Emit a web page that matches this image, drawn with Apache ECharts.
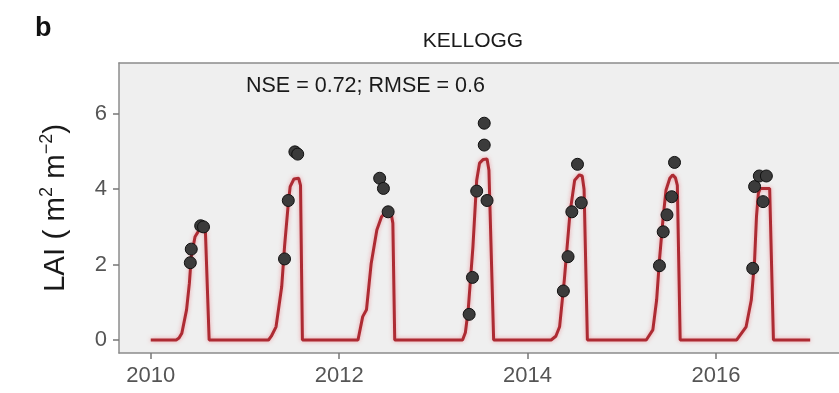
<!DOCTYPE html>
<html>
<head>
<meta charset="utf-8">
<script src="https://cdn.jsdelivr.net/npm/echarts@6/dist/echarts.min.js"></script>
<style>
html,body{margin:0;padding:0;background:#fff;}
#chart{width:839px;height:393px;}
</style>
</head>
<body>
<div id="chart"></div>
<script>
// Simulated LAI (decimal year, LAI)
const simYears = [
  2010.00, 2010.27, 2010.30, 2010.33, 2010.38, 2010.41, 2010.43, 2010.47, 2010.51, 2010.55, 2010.58, 2010.62,
  2011.25, 2011.28, 2011.33, 2011.39, 2011.42, 2011.46, 2011.48, 2011.52, 2011.57, 2011.59, 2011.61,
  2012.20, 2012.25, 2012.29, 2012.34, 2012.40, 2012.45, 2012.50, 2012.55, 2012.57, 2012.59,
  2013.31, 2013.34, 2013.37, 2013.42, 2013.46, 2013.49, 2013.53, 2013.57, 2013.59, 2013.64,
  2014.25, 2014.30, 2014.34, 2014.39, 2014.45, 2014.50, 2014.55, 2014.58, 2014.60, 2014.635,
  2015.26, 2015.33, 2015.37, 2015.40, 2015.44, 2015.47, 2015.51, 2015.54, 2015.57, 2015.59, 2015.62,
  2016.22, 2016.32, 2016.375, 2016.41, 2016.43, 2016.45, 2016.47, 2016.57, 2016.59, 2016.61, 2017.00
];
const simLAI = [
  0, 0, 0.05, 0.18, 0.8, 1.5, 2.2, 2.74, 2.9, 2.94, 2.9, 0,
  0, 0.1, 0.35, 1.41, 2.47, 3.62, 4.07, 4.27, 4.29, 4.1, 0,
  0, 0.62, 0.8, 2.03, 2.92, 3.27, 3.40, 3.38, 3.1, 0,
  0, 0.2, 0.8, 2.47, 4.24, 4.69, 4.79, 4.8, 4.5, 0,
  0, 0.1, 0.35, 1.59, 3.36, 4.24, 4.38, 4.35, 4.0, 0,
  0, 0.27, 1.06, 2.12, 3.27, 3.98, 4.29, 4.38, 4.3, 4.1, 0,
  0, 0.35, 1.06, 2.12, 3.27, 3.89, 4.02, 4.02, 3.98, 0, 0
];
// Observed LAI
const obsYears = [
  2010.42, 2010.43, 2010.53, 2010.56,
  2011.42, 2011.46, 2011.53, 2011.56,
  2012.43, 2012.47, 2012.52,
  2013.38, 2013.415, 2013.46, 2013.54, 2013.54, 2013.57,
  2014.38, 2014.43, 2014.47, 2014.53, 2014.57,
  2015.40, 2015.44, 2015.48, 2015.53, 2015.56,
  2016.39, 2016.41, 2016.46, 2016.535, 2016.50
];
const obsLAI = [
  2.05, 2.41, 3.03, 3.0,
  2.15, 3.70, 4.99, 4.93,
  4.29, 4.02, 3.40,
  0.68, 1.66, 3.95, 5.75, 5.17, 3.70,
  1.30, 2.21, 3.40, 4.66, 3.64,
  1.97, 2.87, 3.32, 3.80, 4.71,
  1.90, 4.07, 4.35, 4.35, 3.67
];
const xTicks = [2010, 2012, 2014, 2016];
const yTicks = [0, 2, 4, 6];
const titleText = 'KELLOGG';
const statText = 'NSE = 0.72; RMSE = 0.6';
const panelLetter = 'b';

const simData = simYears.map((x, i) => [x, simLAI[i]]);
const obsData = obsYears.map((x, i) => [x, obsLAI[i]]);

const chart = echarts.init(document.getElementById('chart'), null, {renderer: 'canvas'});
const tickColor = '#555555';
const ff = 'Liberation Sans, Arial, sans-serif';
const xMin = 2009.663, xMax = 2017.306;
chart.setOption({
  animation: false,
  backgroundColor: '#ffffff',
  grid: {
    left: 119, top: 63, right: 0, bottom: 40,
    show: true, backgroundColor: '#efefef', borderWidth: 0
  },
  xAxis: [{
    type: 'value', min: xMin, max: xMax,
    splitLine: {show: false},
    axisLine: {show: true, onZero: false, lineStyle: {color: '#8c8c8c', width: 1.5}},
    axisTick: {show: true, length: 6, customValues: xTicks, lineStyle: {color: '#777', width: 1.5}},
    axisLabel: {customValues: xTicks, color: tickColor, fontSize: 22, margin: 12,
      fontFamily: ff, formatter: v => String(v)}
  }, {
    type: 'value', position: 'top', min: xMin, max: xMax,
    splitLine: {show: false},
    axisLine: {show: true, onZero: false, lineStyle: {color: '#8c8c8c', width: 1.5}},
    axisTick: {show: false}, axisLabel: {show: false}
  }],
  yAxis: {
    type: 'value', min: -0.345, max: 7.347,
    splitLine: {show: false},
    axisLine: {show: true, onZero: false, lineStyle: {color: '#8c8c8c', width: 1.5}},
    axisTick: {show: true, length: 6, customValues: yTicks, lineStyle: {color: '#777', width: 1.5}},
    axisLabel: {customValues: yTicks, color: tickColor, fontSize: 22, margin: 12,
      fontFamily: ff, formatter: v => String(v)},
    name: '{t|LAI ( m}{s|2}{t| m}{s|\u22122}{t|)}',
    nameLocation: 'middle', nameGap: 46, nameRotate: 90,
    nameTextStyle: {
      rich: {
        t: {fontSize: 29.5, color: '#1a1a1a', fontFamily: ff, lineHeight: 35},
        s: {fontSize: 18, color: '#1a1a1a', fontFamily: ff, verticalAlign: 'top', lineHeight: 18}
      }
    }
  },
  graphic: [
    {type: 'text', left: 35, top: 15, style: {text: panelLetter, fontSize: 27, fontWeight: 'bold',
      fill: '#111', fontFamily: ff}},
    {type: 'text', x: 473, y: 41, style: {text: titleText, fontSize: 21, fill: '#1a1a1a',
      align: 'center', verticalAlign: 'middle', fontFamily: ff}},
    {type: 'text', x: 246, y: 86, z: 100, style: {text: statText, fontSize: 21.5, fill: '#1a1a1a',
      align: 'left', verticalAlign: 'middle', fontFamily: ff}}
  ],
  series: [
    {type: 'line', data: simData, showSymbol: false, symbol: 'none', z: 2,
      lineStyle: {color: '#ad2b33', width: 3, shadowColor: 'rgba(235,90,100,0.55)', shadowBlur: 4}},
    {type: 'scatter', data: obsData, symbolSize: 12, z: 3,
      itemStyle: {color: '#3b3b3b', borderColor: '#111111', borderWidth: 1, opacity: 1}}
  ]
});
</script>
</body>
</html>
